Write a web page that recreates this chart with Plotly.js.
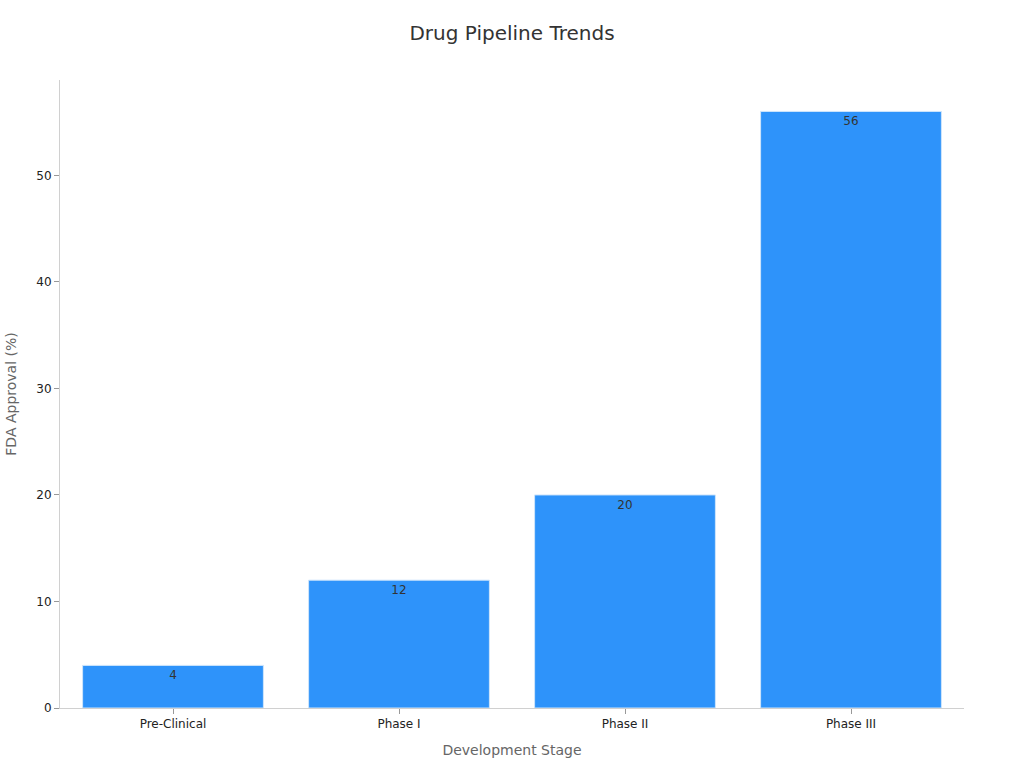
<!DOCTYPE html>
<html>
<head>
<meta charset="utf-8">
<script src="https://cdn.plot.ly/plotly-3.0.1.min.js"></script>
<style>
  body { margin: 0; background: #fff; }
  #chart { width: 1024px; height: 768px; }
</style>
</head>
<body>
<div id="chart"></div>
<script>
var stages = ['Pre-Clinical', 'Phase I', 'Phase II', 'Phase III'];
var approval = [4, 12, 20, 56];

var trace = {
  x: stages,
  y: approval,
  type: 'bar',
  text: approval.map(String),
  textposition: 'inside',
  insidetextanchor: 'end',
  textfont: { family: 'DejaVu Sans', size: 12, color: '#333333' },
  marker: {
    color: '#2E93FA',
    line: { color: '#cfe5fb', width: 1 }
  },
  width: 0.8,
  hoverinfo: 'x+y'
};

var layout = {
  width: 1024,
  height: 768,
  margin: { l: 60, r: 60, t: 80, b: 60 },
  paper_bgcolor: '#ffffff',
  plot_bgcolor: '#ffffff',
  font: { family: 'DejaVu Sans', size: 12, color: '#222222' },
  title: {
    text: 'Drug Pipeline Trends',
    x: 0.5,
    y: 0.957,
    xanchor: 'center',
    yanchor: 'middle',
    font: { family: 'DejaVu Sans', size: 20, color: '#333333' }
  },
  xaxis: {
    title: { text: 'Development Stage', font: { size: 14, color: '#666666' }, standoff: 14 },
    showline: true,
    linecolor: '#d0d0d0',
    ticks: 'outside',
    tickcolor: '#999999',
    ticklen: 5,
    showgrid: false,
    zeroline: false
  },
  yaxis: {
    title: { text: 'FDA Approval (%)', font: { size: 14, color: '#666666' }, standoff: 16 },
    range: [0, 58.95],
    dtick: 10,
    showline: true,
    linecolor: '#d0d0d0',
    ticks: 'outside',
    tickcolor: '#999999',
    ticklen: 5,
    showgrid: false,
    zeroline: false
  },
  showlegend: false
};

Plotly.newPlot('chart', [trace], layout, { displayModeBar: false });
</script>
</body>
</html>
